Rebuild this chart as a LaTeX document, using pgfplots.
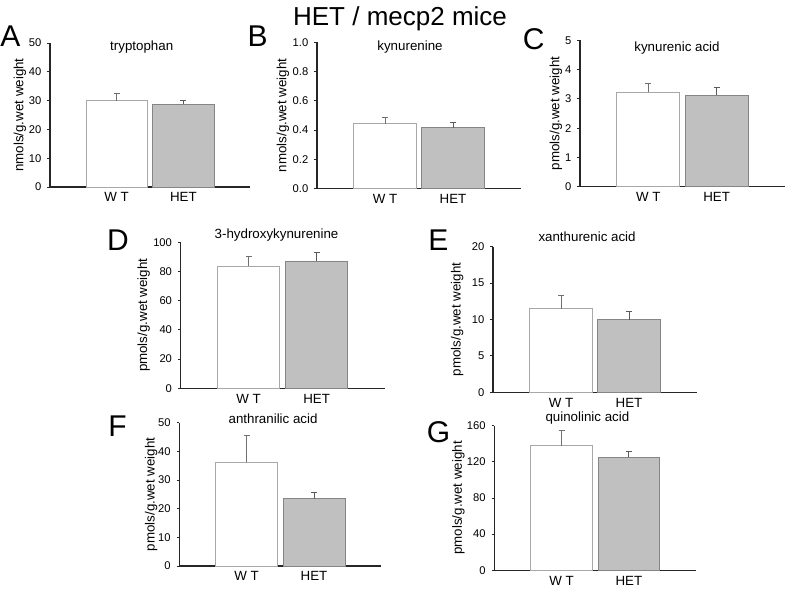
\documentclass[border=0pt]{standalone}
\usepackage{fontspec}
\setmainfont{Liberation Sans}
\usepackage{pgfplots}
\pgfplotsset{compat=1.18}
\definecolor{hetfill}{HTML}{C0C0C0}
\definecolor{hetline}{HTML}{858585}
\definecolor{wtline}{HTML}{A8A8A8}
\definecolor{errc}{HTML}{707070}
\tikzset{ptitle/.style={anchor=base, inner sep=0pt, font=\fontsize{10}{11}\selectfont}}
\pgfplotsset{
  panel/.style={
    scale only axis,
    anchor=south west,
    xmin=0, xmax=3,
    ymin=0,
    axis x line=bottom, axis y line=left,
    axis line style={-, black!85, line width=0.8pt},
    xtick={1,2}, xticklabels={W T, HET},
    x tick style={draw=none},
    y tick style={black!85, line width=0.6pt},
    tick align=outside,
    major tick length=2pt,
    /pgf/number format/assume math mode=true,
    tick label style={font=\fontsize{8.4}{9}\selectfont},
    xticklabel style={font=\fontsize{10}{11}\selectfont, yshift=1.2pt},
    yticklabel style={xshift=-1pt},
    label style={font=\fontsize{10}{11}\selectfont},
    ybar, bar width=0.92, bar shift=0pt,
    clip=false,
  },
  wt/.style={draw=wtline, fill=white, line width=0.7pt,
    error bars/.cd, y dir=plus, y explicit,
    error bar style={errc, line width=0.7pt},
    error mark options={rotate=90, mark size=2.2pt, errc, line width=0.7pt}},
  het/.style={draw=hetline, fill=hetfill, line width=0.7pt,
    error bars/.cd, y dir=plus, y explicit,
    error bar style={errc!80!black, line width=0.7pt},
    error mark options={rotate=90, mark size=2.2pt, errc!80!black, line width=0.7pt}},
}
\begin{document}
\begin{tikzpicture}
\path (0,0) rectangle (590.25pt,-438.75pt);
% main title
\node[anchor=base, font=\fontsize{19.5}{21}\selectfont] at (300pt,-19.5pt) {HET / mecp2 mice};
% panel letters
\node[anchor=base west, inner sep=0pt, font=\fontsize{22.5}{24}\selectfont] at (0pt,-35.2pt) {A};
\node[anchor=base west, inner sep=0pt, font=\fontsize{22.5}{24}\selectfont] at (185.5pt,-35.2pt) {B};
\node[anchor=base west, inner sep=0pt, font=\fontsize{22.5}{24}\selectfont] at (392pt,-37.5pt) {C};
\node[anchor=base west, inner sep=0pt, font=\fontsize{22.5}{24}\selectfont] at (80.2pt,-187.5pt) {D};
\node[anchor=base west, inner sep=0pt, font=\fontsize{22.5}{24}\selectfont] at (321pt,-188.2pt) {E};
\node[anchor=base west, inner sep=0pt, font=\fontsize{22.5}{24}\selectfont] at (81pt,-327.7pt) {F};
\node[anchor=base west, inner sep=0pt, font=\fontsize{22.5}{24}\selectfont] at (320pt,-332.2pt) {G};

% A tryptophan
\begin{axis}[panel, at={(37.5pt,-140.25pt)}, width=150pt, height=108pt,
  ymax=50, ytick={0,10,...,50},
  ylabel={nmols/g.wet weight},
  ylabel style={at={(axis description cs:-0.15,0.5)}, anchor=center}]
\addplot[wt] coordinates {(1,29.9) +- (0,2.6)};
\addplot[het] coordinates {(2,28.7) +- (0,1.4)};
\node[ptitle] at (rel axis cs:0.4585,0.951) {tryptophan};
\end{axis}

% B kynurenine
\begin{axis}[panel, at={(237.75pt,-141.5pt)}, width=153pt, height=109.8pt,
  ymax=1, ytick={0,0.2,...,1.0},
  yticklabel style={/pgf/number format/.cd, fixed, fixed zerofill, precision=1},
  ylabel={nmols/g.wet weight},
  ylabel style={at={(axis description cs:-0.167,0.5)}, anchor=center}]
\addplot[wt] coordinates {(1,0.442) +- (0,0.043)};
\addplot[het] coordinates {(2,0.415) +- (0,0.038)};
\node[ptitle] at (rel axis cs:0.456,0.947) {kynurenine};
\end{axis}

% C kynurenic acid
\begin{axis}[panel, at={(435pt,-140pt)}, width=153.75pt, height=109.8pt,
  ymax=5, ytick={0,1,...,5},
  ylabel={pmols/g.wet weight},
  ylabel style={at={(axis description cs:-0.118,0.5)}, anchor=center}]
\addplot[wt] coordinates {(1,3.22) +- (0,0.32)};
\addplot[het] coordinates {(2,3.12) +- (0,0.28)};
\node[ptitle] at (rel axis cs:0.473,0.92) {kynurenic acid};
\end{axis}

% D 3-hydroxykynurenine
\begin{axis}[panel, at={(135.5pt,-291.2pt)}, width=153pt, height=109.5pt,
  ymax=100, ytick={0,20,...,100},
  ylabel={pmols/g.wet weight},
  ylabel style={at={(axis description cs:-0.181,0.5)}, anchor=center}]
\addplot[wt] coordinates {(1,83.6) +- (0,6.9)};
\addplot[het] coordinates {(2,87.0) +- (0,6.0)};
\node[ptitle] at (rel axis cs:0.47,1.027) {3-hydroxykynurenine};
\end{axis}

% E xanthurenic acid
\begin{axis}[panel, at={(369.75pt,-294.2pt)}, width=153pt, height=109.2pt,
  ymax=20, ytick={0,5,...,20},
  ylabel={pmols/g.wet weight},
  ylabel style={at={(axis description cs:-0.176,0.5)}, anchor=center}]
\addplot[wt] coordinates {(1,11.48) +- (0,1.8)};
\addplot[het] coordinates {(2,9.97) +- (0,1.16)};
\node[ptitle] at (rel axis cs:0.461,1.034) {xanthurenic acid};
\end{axis}

% F anthranilic acid
\begin{axis}[panel, at={(134.5pt,-424.5pt)}, width=151.5pt, height=107.5pt,
  ymax=50, ytick={0,10,...,50},
  ylabel={pmols/g.wet weight},
  ylabel style={at={(axis description cs:-0.139,0.5)}, anchor=center}]
\addplot[wt] coordinates {(1,36.2) +- (0,9.2)};
\addplot[het] coordinates {(2,23.5) +- (0,2.0)};
\node[ptitle] at (rel axis cs:0.464,0.991) {anthranilic acid};
\end{axis}

% G quinolinic acid
\begin{axis}[panel, at={(370.7pt,-427.7pt)}, width=151.5pt, height=108.5pt,
  ymax=160, ytick={0,40,...,160},
  ylabel={pmols/g.wet weight},
  ylabel style={at={(axis description cs:-0.178,0.5)}, anchor=center}]
\addplot[wt] coordinates {(1,137.5) +- (0,16.6)};
\addplot[het] coordinates {(2,125.0) +- (0,6.2)};
\node[ptitle] at (rel axis cs:0.461,1.025) {quinolinic acid};
\end{axis}
\end{tikzpicture}
\end{document}
